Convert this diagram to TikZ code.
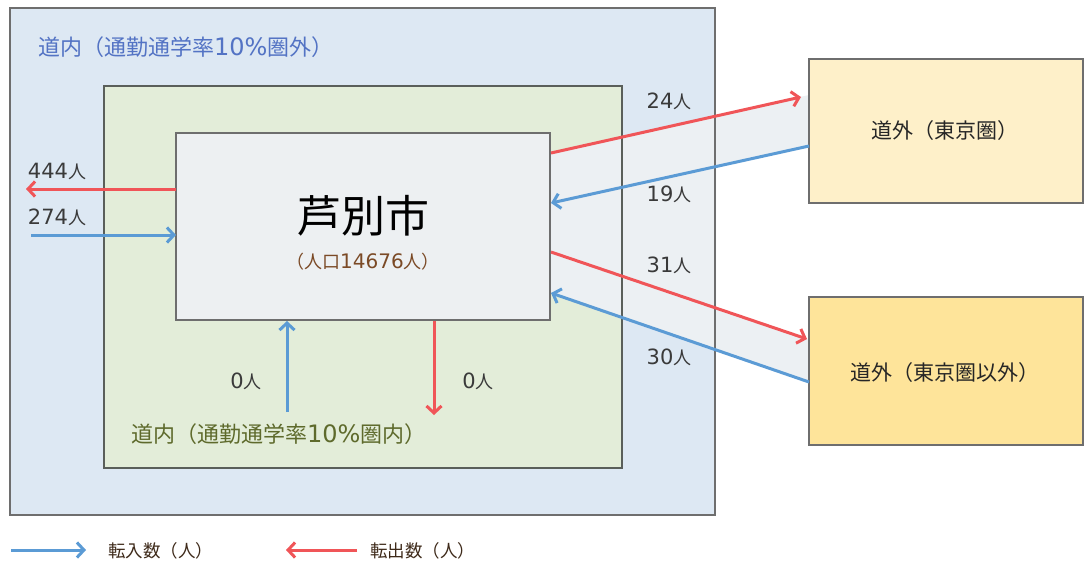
\documentclass[tikz,border=0pt]{standalone}
\usepackage{fontspec}
\setmainfont{Noto Sans CJK JP}
\newfontfamily\digitfont{DejaVu Sans}
\newcommand{\dgtxt}[2]{{\digitfont\fontsize{#1}{#1}\selectfont #2}}
\usetikzlibrary{arrows.meta}
\definecolor{outerbg}{HTML}{DDE8F3}
\definecolor{greenbg}{HTML}{E3EDD9}
\definecolor{centerbg}{HTML}{EDF0F2}
\definecolor{bandgray}{HTML}{ECF0F3}
\definecolor{tokyobg}{HTML}{FEF0C9}
\definecolor{otherbg}{HTML}{FEE49A}
\definecolor{arrred}{HTML}{F05558}
\definecolor{arrblue}{HTML}{5B9BD5}
\definecolor{bordergray}{HTML}{6E6E6E}
\definecolor{greenborder}{HTML}{5A5F5A}
\definecolor{outerlbl}{HTML}{5373C4}
\definecolor{innerlbl}{HTML}{5E6A2C}
\definecolor{poplbl}{HTML}{7B4A26}
\definecolor{numlbl}{HTML}{3A3A3A}
\definecolor{legendlbl}{HTML}{3E2A1A}
\begin{document}
\begin{tikzpicture}[x=1pt,y=-1pt,
  box/.style={draw=none, inner sep=0pt, outer sep=0pt, anchor=north west},
  arr/.style={line width=3pt, -{Straight Barb[length=7pt,width=15pt,line width=3pt]}},
  redarr/.style={arr, draw=arrred},
  bluearr/.style={arr, draw=arrblue},
  num/.style={font=\fontsize{18}{18}\selectfont, text=numlbl, inner sep=0pt},
  boxlbl/.style={font=\fontsize{21}{21}\selectfont, text=black!85, inner sep=0pt},
  legendtxt/.style={font=\fontsize{17.5}{17.5}\selectfont, text=legendlbl, inner sep=0pt, anchor=west},
]
\useasboundingbox (0,0) rectangle (1084,568);
\fill[white] (0,0) rectangle (1084,568);

% box fills
\node[box, fill=outerbg, minimum width=705pt, minimum height=507pt] (outer) at (10,8) {};
\node[box, fill=greenbg, minimum width=518pt, minimum height=382pt] (green) at (104,86) {};
\node[box, fill=centerbg, minimum width=374pt, minimum height=187pt] (center) at (176,133) {};
\node[box, fill=tokyobg, minimum width=274pt, minimum height=144pt] (tokyo) at (809,59) {};
\node[box, fill=otherbg, minimum width=274pt, minimum height=148pt] (other) at (809,297) {};

% grey band between city and outside regions
\fill[bandgray] (550,153) -- (809,95) -- (809,146) -- (716,166.4) -- (716,308.3)
  -- (809,340) -- (809,382) -- (550,292) -- cycle;

% borders
\draw[bordergray, line width=2pt] (outer.north west) rectangle (outer.south east);
\draw[greenborder, line width=2.5pt] (green.north west) rectangle (green.south east);
\draw[bordergray, line width=1.2pt] (center.north west) rectangle (center.south east);
\draw[bordergray, line width=1.5pt] (tokyo.north west) rectangle (tokyo.south east);
\draw[bordergray, line width=1.5pt] (other.north west) rectangle (other.south east);

% connector end points
\coordinate (l444) at (26,189);
\coordinate (c444) at (176,189);
\coordinate (l274) at (31,235);
\coordinate (c274) at (176,235);
\coordinate (b0in) at (287,412);
\coordinate (c0in) at (287,321);
\coordinate (c0out) at (434,321);
\coordinate (b0out) at (434,415);
\coordinate (c24) at (551,153);
\coordinate (t24) at (801,97);
\coordinate (t19) at (809,146);
\coordinate (c19) at (551,203);
\coordinate (c31) at (551,252);
\coordinate (t31) at (807,339);
\coordinate (t30) at (809,382);
\coordinate (c30) at (551,293);

% arrows
\draw[redarr] (c444) -- (l444);
\draw[bluearr] (l274) -- (c274);
\draw[bluearr] (b0in) -- (c0in);
\draw[redarr] (c0out) -- (b0out);
\draw[redarr] (c24) -- (t24);
\draw[bluearr] (t19) -- (c19);
\draw[redarr] (c31) -- (t31);
\draw[bluearr] (t30) -- (c30);

% texts
\node[font=\fontsize{22}{22}\selectfont, text=outerlbl, inner sep=0pt, anchor=west] (lblout) at (38,47) {道内（通勤通学率\dgtxt{24}{10\%}圏外）};
\node[font=\fontsize{22}{22}\selectfont, text=innerlbl, inner sep=0pt, anchor=west] (lblin) at (131,434) {道内（通勤通学率\dgtxt{24}{10\%}圏内）};
\node[font=\fontsize{44}{44}\selectfont, text=black, inner sep=0pt] (city) at (363,216) {芦別市};
\node[font=\fontsize{18}{18}\selectfont, text=poplbl, inner sep=0pt] (pop) at (363,262) {（人口\dgtxt{20}{14676}人）};

\node[num] (n444) at (57,171) {\dgtxt{21}{444}人};
\node[num] (n274) at (57,217) {\dgtxt{21}{274}人};
\node[num] (n24) at (669,101) {\dgtxt{21}{24}人};
\node[num] (n19) at (669,194) {\dgtxt{21}{19}人};
\node[num] (n31) at (669,265) {\dgtxt{21}{31}人};
\node[num] (n30) at (669,357) {\dgtxt{21}{30}人};
\node[num] (n0a) at (246,381) {\dgtxt{21}{0}人};
\node[num] (n0b) at (478,381) {\dgtxt{21}{0}人};

\node[boxlbl] (tokyolbl) at (945,131) {道外（東京圏）};
\node[boxlbl] (otherlbl) at (945,373) {道外（東京圏以外）};

% legend
\coordinate (lgb1) at (11,550);
\coordinate (lgb2) at (86,550);
\coordinate (lgr1) at (357,550);
\coordinate (lgr2) at (286,550);
\draw[bluearr] (lgb1) -- (lgb2);
\draw[redarr] (lgr1) -- (lgr2);
\node[legendtxt] (lgin) at (108,551) {転入数（人）};
\node[legendtxt] (lgout) at (370,551) {転出数（人）};
\end{tikzpicture}
\end{document}
